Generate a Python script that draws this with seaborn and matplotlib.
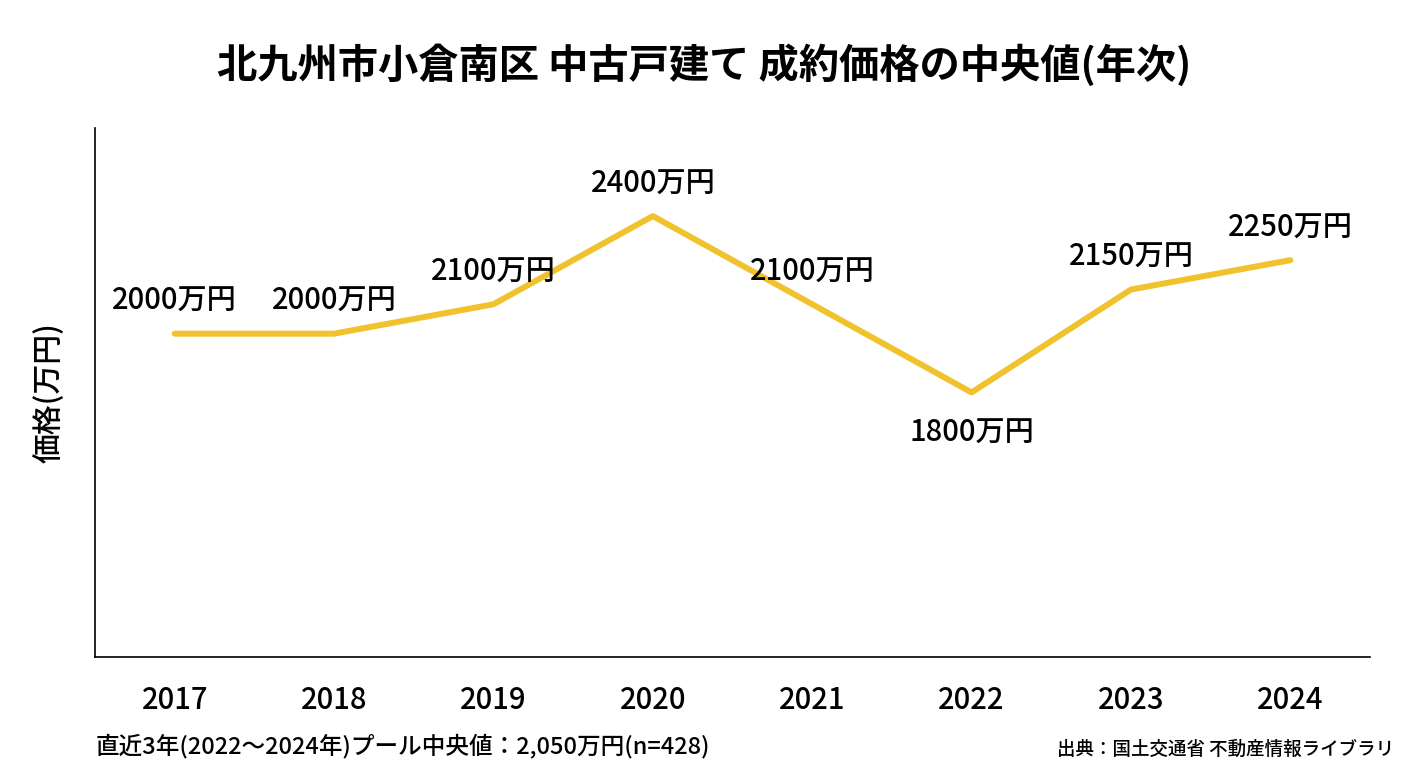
import matplotlib
matplotlib.use("Agg")
import matplotlib.pyplot as plt
import seaborn as sns
import pandas as pd

# -----------------------------
# DATA
# -----------------------------

years = ["2017", "2018", "2019", "2020", "2021", "2022", "2023", "2024"]
prices = [2000, 2000, 2100, 2400, 2100, 1800, 2150, 2250]
label_below = [False, False, False, False, False, True, False, False]

df = pd.DataFrame({"year": years, "price": prices})

# -----------------------------
# STYLE
# -----------------------------

sns.set_style("white")
plt.rcParams["font.family"] = ["Noto Sans CJK JP", "DejaVu Sans"]
plt.rcParams["text.color"] = "black"
plt.rcParams["axes.labelcolor"] = "black"
plt.rcParams["xtick.color"] = "black"

fig = plt.figure(figsize=(14.08, 7.68), dpi=100)
ax = fig.add_axes([0.0675, 0.1445, 0.9055, 0.689])

sns.lineplot(data=df, x="year", y="price", ax=ax, color="#F0C22E",
             linewidth=4.3, sort=False)

# data labels
for i, (p, below) in enumerate(zip(prices, label_below)):
    off = -41 if below else 32
    ax.annotate(f"{p}万円", (i, p), xytext=(0, off), textcoords="offset pixels",
                ha="center", va="center", fontsize=21, fontweight="medium")

ax.set_xlim(-0.5, len(years) - 0.5)
ax.set_ylim(900, 2700)
ax.set_yticks([])
ax.set_xlabel("")
ax.set_ylabel("価格(万円)", fontsize=21.5, labelpad=22, fontweight="medium")
ax.tick_params(axis="x", length=0, pad=20, labelsize=21)
for t in ax.get_xticklabels():
    t.set_fontweight("medium")

for s in ["top", "right"]:
    ax.spines[s].set_visible(False)
for s in ["left", "bottom"]:
    ax.spines[s].set_color("black")
    ax.spines[s].set_linewidth(1.2)

fig.text(0.5, 0.915, "北九州市小倉南区 中古戸建て 成約価格の中央値(年次)",
         ha="center", va="center", fontsize=29, fontweight="bold")
fig.text(0.068, 0.029, "直近3年(2022〜2024年)プール中央値：2,050万円(n=428)",
         ha="left", va="center", fontsize=17, fontweight="medium")
fig.text(0.99, 0.024, "出典：国土交通省 不動産情報ライブラリ",
         ha="right", va="center", fontsize=13.3, fontweight="medium")

fig.savefig("out.png", dpi=100)
